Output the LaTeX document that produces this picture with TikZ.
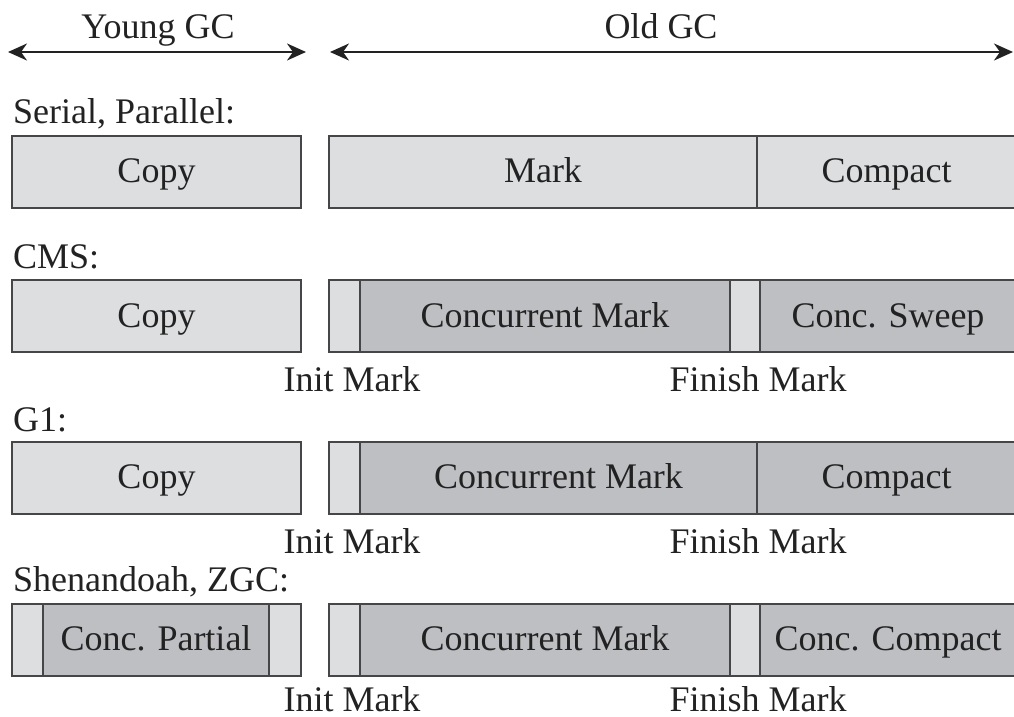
\documentclass[tikz,border=0pt]{standalone}
\usepackage{fontspec}
\setmainfont{Liberation Serif}
\usetikzlibrary{arrows.meta}
\definecolor{lightg}{RGB}{220,222,224}
\definecolor{darkg}{RGB}{189,191,194}
\definecolor{edge}{RGB}{70,70,72}
\definecolor{ink}{RGB}{34,34,34}
\tikzset{
  seg/.style={draw=edge, line width=2pt, rectangle, inner sep=0pt, minimum height=72pt,
    text=ink, text height=24pt, text depth=2pt, font=\fontsize{36}{40}\selectfont},
  lbl/.style={text=ink, inner sep=0pt, font=\fontsize{36}{40}\selectfont},
  arr/.style={draw=ink, line width=2pt, {Stealth[length=19pt,width=17pt,inset=6pt]}-{Stealth[length=19pt,width=17pt,inset=6pt]}}
}
\newcommand\seg[6]{\node[seg,fill=#5,minimum width={(#3)-(#2)}] (#1) at ({((#2)+(#3))/2},#4) {#6};}
\begin{document}
\begin{tikzpicture}[x=1pt,y=-1pt]
\useasboundingbox (0,0) rectangle (1014,717);
\fill[white] (0,0) rectangle (1014,717);
\clip (0,0) rectangle (1014,717);
% headers
\coordinate (ya) at (8,52);
\coordinate (yb) at (306,52);
\coordinate (oa) at (330,52);
\coordinate (ob) at (1013,52);
\draw[arr] (ya) -- (yb);
\draw[arr] (oa) -- (ob);
\node[lbl,anchor=base] (young) at (158,38) {Young GC};
\node[lbl,anchor=base] (old) at (661,38) {Old GC};
% row labels
\node[lbl,anchor=base west] (l1) at (13,123) {Serial, Parallel:};
\node[lbl,anchor=base west] (l2) at (13,268) {CMS:};
\node[lbl,anchor=base west] (l3) at (13,431) {G1:};
\node[lbl,anchor=base west] (l4) at (13,591) {Shenandoah, ZGC:};
% row 1
\seg{a1}{12}{301}{171.5}{lightg}{Copy}
\seg{a2}{329}{757}{171.5}{lightg}{Mark}
\seg{a3}{757}{1016}{171.5}{lightg}{Compact}
% row 2 CMS
\seg{b1}{12}{301}{316}{lightg}{Copy}
\seg{b2}{329}{360}{316}{lightg}{}
\seg{b3}{360}{730}{316}{darkg}{Concurrent Mark}
\seg{b4}{730}{760}{316}{lightg}{}
\seg{b5}{760}{1016}{316}{darkg}{Conc. Sweep}
\node[lbl,anchor=base] (b6) at (352,391) {Init Mark};
\node[lbl,anchor=base] (b7) at (758,391) {Finish Mark};
% row 3 G1
\seg{c1}{12}{301}{477.5}{lightg}{Copy}
\seg{c2}{329}{360}{477.5}{lightg}{}
\seg{c3}{360}{757}{477.5}{darkg}{Concurrent Mark}
\seg{c4}{757}{1016}{477.5}{darkg}{Compact}
\node[lbl,anchor=base] (c6) at (352,553) {Init Mark};
\node[lbl,anchor=base] (c7) at (758,553) {Finish Mark};
% row 4 Shenandoah
\seg{d1}{12}{43}{639.5}{lightg}{}
\seg{d2}{43}{269}{639.5}{darkg}{Conc. Partial}
\seg{d3}{269}{301}{639.5}{lightg}{}
\seg{d4}{329}{360}{639.5}{lightg}{}
\seg{d5}{360}{730}{639.5}{darkg}{Concurrent Mark}
\seg{d6}{730}{760}{639.5}{lightg}{}
\seg{d7}{760}{1016}{639.5}{darkg}{Conc. Compact}
\node[lbl,anchor=base] (d8) at (352,711) {Init Mark};
\node[lbl,anchor=base] (d9) at (758,711) {Finish Mark};
\end{tikzpicture}
\end{document}
